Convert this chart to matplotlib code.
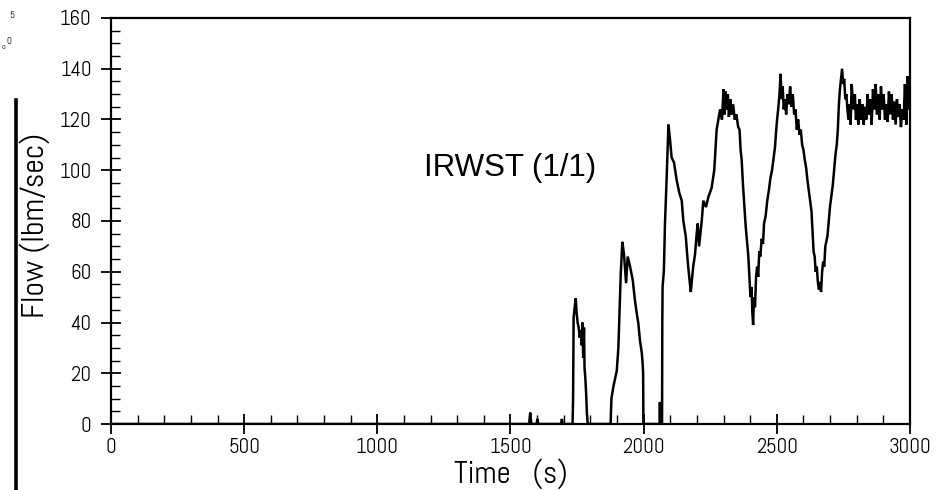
import matplotlib
matplotlib.use("Agg")
import matplotlib.pyplot as plt
from matplotlib.ticker import MultipleLocator

# ---------------- data ----------------
time_s = [
    0, 1570, 1574, 1578, 1598, 1601, 1604, 1690, 1693, 1696, 1733,
    1735, 1737, 1741, 1745, 1748, 1752, 1756, 1760, 1764, 1767, 1770, 1773,
    1776, 1778, 1781, 1784, 1787, 1790, 1876,
    1877, 1879, 1886, 1899, 1905, 1909, 1914, 1920, 1926, 1934, 1940, 1949,
    1959, 1967, 1974, 1980, 1986, 1993, 1996, 1998, 1999, 2060, 2061, 2062, 2069,
    2070, 2071, 2076, 2080, 2086, 2093, 2099, 2105, 2114, 2124, 2134, 2143,
    2149, 2158, 2165, 2171, 2177, 2181, 2186, 2193, 2199, 2203, 2208, 2218,
    2224, 2234, 2243, 2255, 2265, 2274, 2287,
    2294, 2300, 2304, 2308, 2312, 2316, 2320, 2325, 2330, 2336, 2342, 2348,
    2355, 2360, 2364, 2368, 2373, 2378, 2383, 2388, 2393, 2397, 2401, 2405,
    2408, 2411, 2414, 2418, 2422, 2426, 2430, 2434, 2438, 2443, 2448, 2452,
    2458, 2464, 2470, 2476, 2482, 2488, 2493, 2497, 2501, 2505, 2510, 2514,
    2518, 2522, 2526, 2530, 2535, 2540, 2545, 2550, 2555, 2560, 2565, 2570,
    2575, 2580, 2585, 2590, 2595, 2600, 2605, 2610, 2615, 2620, 2625, 2630,
    2634, 2638, 2642, 2646, 2650, 2654, 2658, 2662, 2666, 2670, 2674, 2678,
    2682, 2686, 2690, 2695, 2700, 2705, 2710, 2715, 2720, 2725, 2729, 2733,
    2737, 2741, 2745, 2749, 2753, 2757, 2761, 2765, 2769, 2773, 2777, 2781,
    2785, 2789, 2793, 2797, 2801, 2806, 2811, 2816, 2821, 2826, 2831, 2836,
    2841, 2846, 2851, 2856, 2861, 2866, 2871, 2876, 2881, 2886, 2891, 2896,
    2901, 2906, 2911, 2916, 2921, 2926, 2931, 2936, 2941, 2946, 2951, 2956,
    2961, 2966, 2971, 2976, 2981, 2986, 2991, 2995, 3000,
]
flow_lbm_s = [
    0, 0, 4.5, 0, 0, 2, 0, 0, 2, 0, 0,
    10, 42, 46, 49.5, 44, 40, 38, 34, 37, 31, 40, 26,
    38, 22, 18, 12, 4, 0, 0,
    4, 10, 14.6, 21, 30, 43.6, 59.4, 71.8, 67, 55.5, 66, 62,
    56.7, 49, 43.6, 39.7, 33, 28, 24, 20, 0, 0, 8.7, 0, 0,
    40, 54, 60.7, 79, 96, 118, 112, 105, 103, 96, 91, 88,
    80, 74, 64.6, 58, 52, 56.7, 62, 67, 75, 79, 70, 80,
    88, 85.5, 89.5, 93, 100, 116, 124,
    120, 132, 122, 131, 124, 130, 121, 128, 122, 126, 120, 122,
    117, 116, 108, 104, 94, 86, 78, 72, 66, 58, 50, 54,
    44, 39, 50, 46, 58, 62, 58, 68, 66, 73, 71, 79,
    82, 88, 92, 97, 100, 105, 109, 115, 120, 124, 130, 138,
    128, 133, 124, 128, 122, 130, 126, 133, 125, 130, 122, 124,
    116, 120, 114, 116, 110, 108, 104, 101, 96, 92, 88, 84,
    76, 68, 66, 60, 62, 56, 53, 56, 52, 60, 64, 62,
    70, 72, 74, 80, 86, 90, 94, 100, 106, 110, 116, 126,
    132, 136, 140, 134, 136, 128, 130, 124, 120, 126, 118, 134,
    128, 124, 130, 120, 126, 118, 128, 120, 126, 118, 125, 120,
    130, 122, 128, 118, 132, 124, 134, 122, 130, 120, 133, 124,
    130, 120, 126, 119, 131, 122, 130, 120, 127, 118, 128, 121,
    126, 117, 124, 120, 134, 118, 137, 124, 128,
]

x_ticks = [0, 500, 1000, 1500, 2000, 2500, 3000]
y_ticks = [0, 20, 40, 60, 80, 100, 120, 140, 160]
annotation = "IRWST (1/1)"
x_label = "Time   (s)"
y_label = "Flow (lbm/sec)"

# ---------------- figure ----------------
narrow = ["Abel", "DejaVu Sans"]
plt.rcParams["font.family"] = narrow

fig = plt.figure(figsize=(9.43, 4.90), dpi=100)
ax = fig.add_axes([111 / 943, 1 - 424 / 490, 799 / 943, 406 / 490])

ax.plot(time_s, flow_lbm_s, color="black", linewidth=1.8, solid_joinstyle="miter")

ax.set_xlim(0, 3000)
ax.set_ylim(0, 160)
ax.set_xticks(x_ticks)
ax.set_yticks(y_ticks)
ax.xaxis.set_minor_locator(MultipleLocator(100))
ax.yaxis.set_minor_locator(MultipleLocator(5))
ax.tick_params(which="major", direction="inout", length=14, width=1.3,
               labelsize=15, colors="black")
ax.tick_params(which="minor", direction="in", length=6.5, width=1.0)
ax.tick_params(axis="y", which="major", pad=7)
ax.tick_params(axis="x", which="major", pad=3)
ax.tick_params(top=False, right=False)

for s in ax.spines.values():
    s.set_linewidth(1.6)

ax.set_xlabel(x_label, fontsize=22.5, labelpad=1)
ax.set_ylabel(y_label, fontsize=23)
ax.yaxis.set_label_coords(-0.076, 0.49)

ax.text(1498, 101, annotation, fontsize=22.5, family=["Liberation Sans", "DejaVu Sans"],
        ha="center", va="center")

# scan artefacts at the left edge
fig.add_artist(plt.Line2D([16 / 943, 16 / 943], [0, 1 - 100 / 490],
                          transform=fig.transFigure, color="black", linewidth=2.6))
fig.text(9 / 943, 1 - 15 / 490, "5", fontsize=7, ha="left", va="center")
fig.text(6 / 943, 1 - 42 / 490, "0", fontsize=7, ha="left", va="center")
fig.text(1 / 943, 1 - 47 / 490, "o", fontsize=6, ha="left", va="center")

fig.savefig("out.png", dpi=100)
